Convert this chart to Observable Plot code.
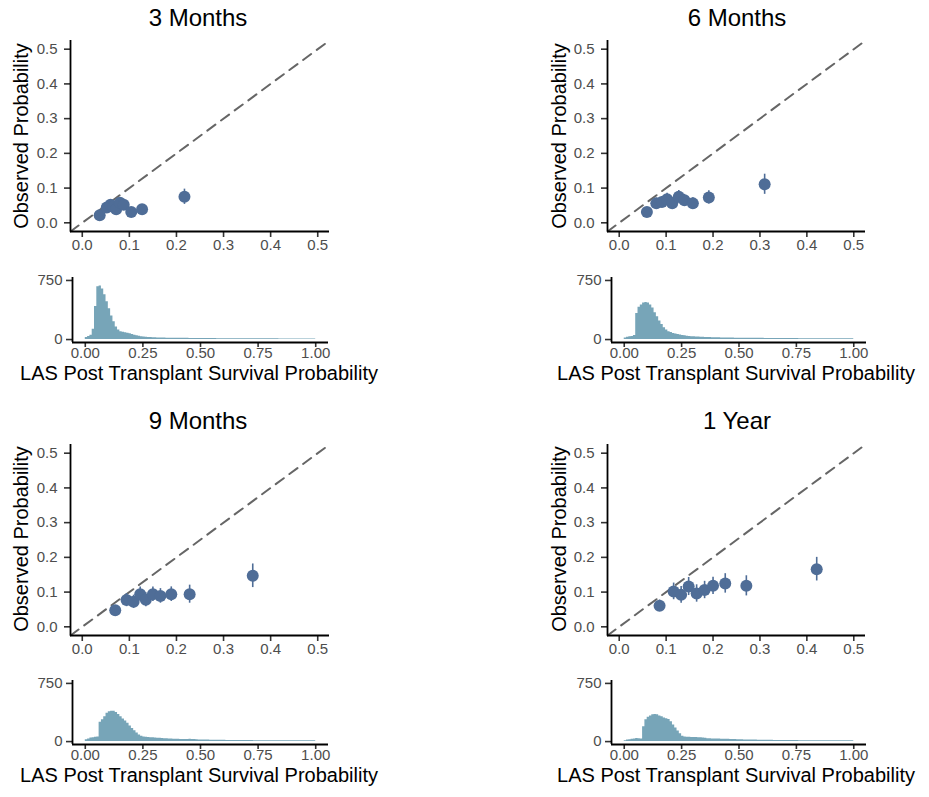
<!DOCTYPE html>
<html>
<head>
<meta charset="utf-8">
<script src="https://cdn.jsdelivr.net/npm/d3@7"></script>
<script src="https://cdn.jsdelivr.net/npm/@observablehq/plot@0.6"></script>
<style>
body { margin: 0; background: #fff; }
#chart { position: relative; width: 929px; height: 797px; overflow: hidden; font-family: "Liberation Sans", Arial, sans-serif; background: #fff; }
#chart svg { position: absolute; overflow: visible; }
#chart g[aria-label$="tick label"] { fill: #4d4d4d; }
#chart g[aria-label$="-axis tick"] { stroke: #333; stroke-width: 1.6px; }
</style>
</head>
<body>
<div id="chart"></div>
<script>
// ---------- DATA ----------
const panelTitles = ["3 Months", "6 Months", "9 Months", "1 Year"];
const yLabel = "Observed Probability";
const xLabel = "LAS Post Transplant Survival Probability";

// calibration points: predicted (x), observed (y), CI lower / upper
const pred3m = [0.037, 0.052, 0.060, 0.066, 0.072, 0.080, 0.088, 0.104, 0.127, 0.217];
const obs3m  = [0.022, 0.044, 0.052, 0.047, 0.039, 0.058, 0.052, 0.031, 0.039, 0.075];
const lo3m   = [0.012, 0.032, 0.040, 0.035, 0.027, 0.045, 0.040, 0.019, 0.027, 0.053];
const hi3m   = [0.032, 0.056, 0.064, 0.059, 0.051, 0.071, 0.064, 0.043, 0.051, 0.097];

const pred6m = [0.059, 0.079, 0.091, 0.102, 0.113, 0.127, 0.139, 0.157, 0.191, 0.310];
const obs6m  = [0.031, 0.056, 0.060, 0.068, 0.056, 0.075, 0.065, 0.056, 0.073, 0.111];
const lo6m   = [0.020, 0.041, 0.044, 0.051, 0.040, 0.057, 0.048, 0.040, 0.054, 0.082];
const hi6m   = [0.042, 0.071, 0.076, 0.085, 0.072, 0.093, 0.082, 0.072, 0.092, 0.140];

const pred9m = [0.070, 0.094, 0.109, 0.123, 0.135, 0.150, 0.166, 0.189, 0.228, 0.362];
const obs9m  = [0.048, 0.077, 0.072, 0.094, 0.078, 0.094, 0.089, 0.094, 0.094, 0.147];
const lo9m   = [0.035, 0.058, 0.053, 0.073, 0.058, 0.073, 0.068, 0.073, 0.068, 0.113];
const hi9m   = [0.061, 0.096, 0.091, 0.115, 0.098, 0.115, 0.110, 0.115, 0.120, 0.181];

const pred1y = [0.086, 0.116, 0.132, 0.148, 0.165, 0.182, 0.200, 0.226, 0.271, 0.421];
const obs1y  = [0.061, 0.102, 0.092, 0.116, 0.096, 0.106, 0.118, 0.125, 0.118, 0.166];
const lo1y   = [0.045, 0.078, 0.068, 0.090, 0.071, 0.081, 0.093, 0.097, 0.089, 0.132];
const hi1y   = [0.077, 0.126, 0.116, 0.142, 0.121, 0.131, 0.143, 0.153, 0.147, 0.200];

// histogram counts, bins of width 0.01 from 0.00 to 1.00
const histBinWidth = 0.01;
const hist3m = [
  25, 40, 55, 130, 420, 670, 680, 640, 570, 480,
  390, 300, 225, 160, 120, 100, 92, 86, 80, 72,
  64, 56, 48, 42, 36, 32, 29, 27, 25, 23,
  22, 21, 20, 20, 19, 18, 18, 17, 17, 16,
  16, 16, 15, 15, 15, 14, 14, 14, 13, 13,
  13, 13, 12, 12, 12, 12, 12, 11, 11, 11,
  11, 11, 11, 11, 10, 10, 10, 10, 10, 10,
  10, 10, 10, 9, 9, 9, 9, 9, 9, 9,
  9, 9, 9, 9, 8, 8, 8, 8, 8, 8,
  8, 8, 8, 8, 8, 8, 8, 8, 8, 8
];
const hist6m = [
  20, 30, 35, 40, 50, 330, 410, 440, 465, 470,
  465, 440, 400, 340, 290, 235, 190, 150, 120, 100,
  88, 78, 70, 64, 58, 52, 47, 43, 40, 37,
  35, 33, 31, 30, 28, 27, 26, 25, 24, 23,
  22, 22, 21, 21, 20, 20, 19, 19, 18, 18,
  18, 17, 17, 17, 16, 16, 16, 15, 15, 15,
  15, 14, 14, 14, 14, 13, 13, 13, 13, 13,
  12, 12, 12, 12, 12, 12, 11, 11, 11, 11,
  11, 11, 11, 11, 10, 10, 10, 10, 10, 10,
  10, 10, 10, 10, 10, 10, 10, 10, 10, 10
];
const hist9m = [
  25, 35, 45, 50, 55, 60, 250, 280, 320, 365,
  385, 392, 390, 375, 350, 320, 290, 265, 235, 200,
  170, 140, 110, 85, 70, 58, 55, 52, 50, 48,
  46, 44, 42, 40, 38, 36, 34, 32, 31, 30,
  29, 28, 27, 26, 26, 30, 28, 26, 24, 22,
  21, 20, 19, 19, 18, 18, 17, 17, 16, 16,
  16, 15, 15, 15, 14, 14, 14, 14, 13, 13,
  13, 13, 13, 12, 12, 12, 12, 12, 12, 11,
  11, 11, 11, 11, 11, 11, 10, 10, 10, 10,
  10, 10, 10, 10, 10, 10, 10, 10, 10, 10
];
const hist1y = [
  10, 20, 25, 30, 35, 40, 38, 35, 190, 280,
  315, 330, 345, 350, 345, 330, 320, 305, 295, 285,
  255, 215, 175, 135, 100, 70, 58, 56, 55, 54,
  53, 52, 50, 48, 46, 42, 38, 36, 35, 34,
  33, 32, 31, 30, 30, 29, 28, 27, 26, 25,
  24, 23, 22, 21, 20, 20, 19, 19, 18, 18,
  17, 17, 16, 16, 16, 15, 15, 15, 14, 14,
  14, 14, 13, 13, 13, 13, 12, 12, 12, 12,
  12, 11, 11, 11, 11, 11, 11, 10, 10, 10,
  10, 10, 10, 10, 10, 10, 10, 10, 10, 10
];

// scales / ticks
const probDomain = [-0.025, 0.525];
const probTicks = [0, 0.1, 0.2, 0.3, 0.4, 0.5];
const histXDomain = [-0.0555, 1.0555];
const histXTicks = [0, 0.25, 0.5, 0.75, 1];
const histYDomain = [-37.5, 787.5];
const histYTicks = [0, 750];

// ---------- STYLE / LAYOUT ----------
const pointColor = "#4f6d97";
const histColor = "#77a5b8";
const fontFamily = '"Liberation Sans", Arial, sans-serif';
const tickFont = 15;
const colScatterLeft = [70, 607];
const colHistLeft = [72, 611];
const colScatterW = [259, 258];
const colHistW = [256, 255];
const rowScatterTop = [40, 444];
const rowHistTop = [277, 680];
const rowHistH = [65, 64];
const scatterH = 191;

const panels = [
  {title: panelTitles[0], pred: pred3m, obs: obs3m, lo: lo3m, hi: hi3m, hist: hist3m, col: 0, row: 0},
  {title: panelTitles[1], pred: pred6m, obs: obs6m, lo: lo6m, hi: hi6m, hist: hist6m, col: 1, row: 0},
  {title: panelTitles[2], pred: pred9m, obs: obs9m, lo: lo9m, hi: hi9m, hist: hist9m, col: 0, row: 1},
  {title: panelTitles[3], pred: pred1y, obs: obs1y, lo: lo1y, hi: hi1y, hist: hist1y, col: 1, row: 1}
];

const chart = document.getElementById("chart");
const baseStyle = {fontFamily, fontSize: tickFont + "px", background: "transparent", overflow: "visible", color: "black"};

function place(svg, left, top) {
  svg.style.left = left + "px";
  svg.style.top = top + "px";
  chart.appendChild(svg);
}

function scatterPanel(p) {
  const ML = 70, MR = 16, MT = 12, MB = 32;
  const fw = colScatterW[p.col], fh = scatterH;
  const rows = p.pred.map((x, i) => ({pred: x, obs: p.obs[i], lo: p.lo[i], hi: p.hi[i]}));
  const fmt = d3.format(".1f");
  const svg = Plot.plot({
    width: fw + ML + MR, height: fh + MT + MB,
    marginLeft: ML, marginRight: MR, marginTop: MT, marginBottom: MB,
    style: baseStyle,
    x: {domain: probDomain},
    y: {domain: probDomain},
    marks: [
      Plot.line(probDomain, {x: d => d, y: d => d, stroke: "#666666", strokeWidth: 2, strokeDasharray: "10,7"}),
      Plot.ruleX(rows, {x: "pred", y1: "lo", y2: "hi", stroke: pointColor, strokeWidth: 1.6}),
      Plot.dot(rows, {x: "pred", y: "obs", r: 6, fill: pointColor}),
      Plot.axisX({ticks: probTicks, tickFormat: fmt, tickSize: 6, tickPadding: 2, fontSize: tickFont, label: null}),
      Plot.axisY({ticks: probTicks, tickFormat: fmt, tickSize: 6, tickPadding: 7, fontSize: tickFont, label: null}),
      Plot.ruleX([probDomain[0]], {stroke: "black", strokeWidth: 1.8}),
      Plot.ruleY([probDomain[0]], {stroke: "black", strokeWidth: 1.8})
    ]
  });
  place(svg, colScatterLeft[p.col] - ML, rowScatterTop[p.row] - MT);
}

function histPanel(p) {
  const ML = 72, MR = 16, MT = 12, MB = 28;
  const fw = colHistW[p.col], fh = rowHistH[p.row];
  // step outline of the histogram: one vertex per bin start, plus closing edge of the last bin
  const steps = p.hist.map((c, i) => ({x: i * histBinWidth, count: c}));
  steps.push({x: p.hist.length * histBinWidth, count: p.hist[p.hist.length - 1]});
  const svg = Plot.plot({
    width: fw + ML + MR, height: fh + MT + MB,
    marginLeft: ML, marginRight: MR, marginTop: MT, marginBottom: MB,
    style: baseStyle,
    x: {domain: histXDomain},
    y: {domain: histYDomain},
    marks: [
      Plot.areaY(steps, {x: "x", y: "count", curve: "step-after", fill: histColor}),
      Plot.axisX({ticks: histXTicks, tickFormat: d3.format(".2f"), tickSize: 5, tickPadding: 0, fontSize: tickFont, label: null}),
      Plot.axisY({ticks: histYTicks, tickFormat: d3.format("d"), tickSize: 6, tickPadding: 4, fontSize: tickFont, label: null}),
      Plot.ruleX([histXDomain[0]], {stroke: "black", strokeWidth: 1.8}),
      Plot.ruleY([histYDomain[0]], {stroke: "black", strokeWidth: 1.8})
    ]
  });
  place(svg, colHistLeft[p.col] - ML, rowHistTop[p.row] - MT);
}

panels.forEach(p => { scatterPanel(p); histPanel(p); });

// ---------- TEXT OVERLAY (titles and axis titles) ----------
const titleX = [198, 737], titleY = [26, 429];
const yLabX = [28, 566], yLabY = [136, 539];
const xLabX = [199, 736], xLabY = [380, 782];

const overlay = d3.create("svg")
  .attr("width", 929).attr("height", 797)
  .style("left", "0px").style("top", "0px")
  .style("font-family", fontFamily)
  .style("pointer-events", "none");

panels.forEach(p => {
  overlay.append("text")
    .attr("x", titleX[p.col]).attr("y", titleY[p.row])
    .attr("text-anchor", "middle").attr("font-size", 24).attr("fill", "black")
    .text(p.title);
  overlay.append("text")
    .attr("transform", `translate(${yLabX[p.col]},${yLabY[p.row]}) rotate(-90)`)
    .attr("text-anchor", "middle").attr("font-size", 20).attr("fill", "black")
    .text(yLabel);
  overlay.append("text")
    .attr("x", xLabX[p.col]).attr("y", xLabY[p.row])
    .attr("text-anchor", "middle").attr("font-size", 20).attr("fill", "black")
    .text(xLabel);
});
chart.appendChild(overlay.node());
</script>
</body>
</html>
